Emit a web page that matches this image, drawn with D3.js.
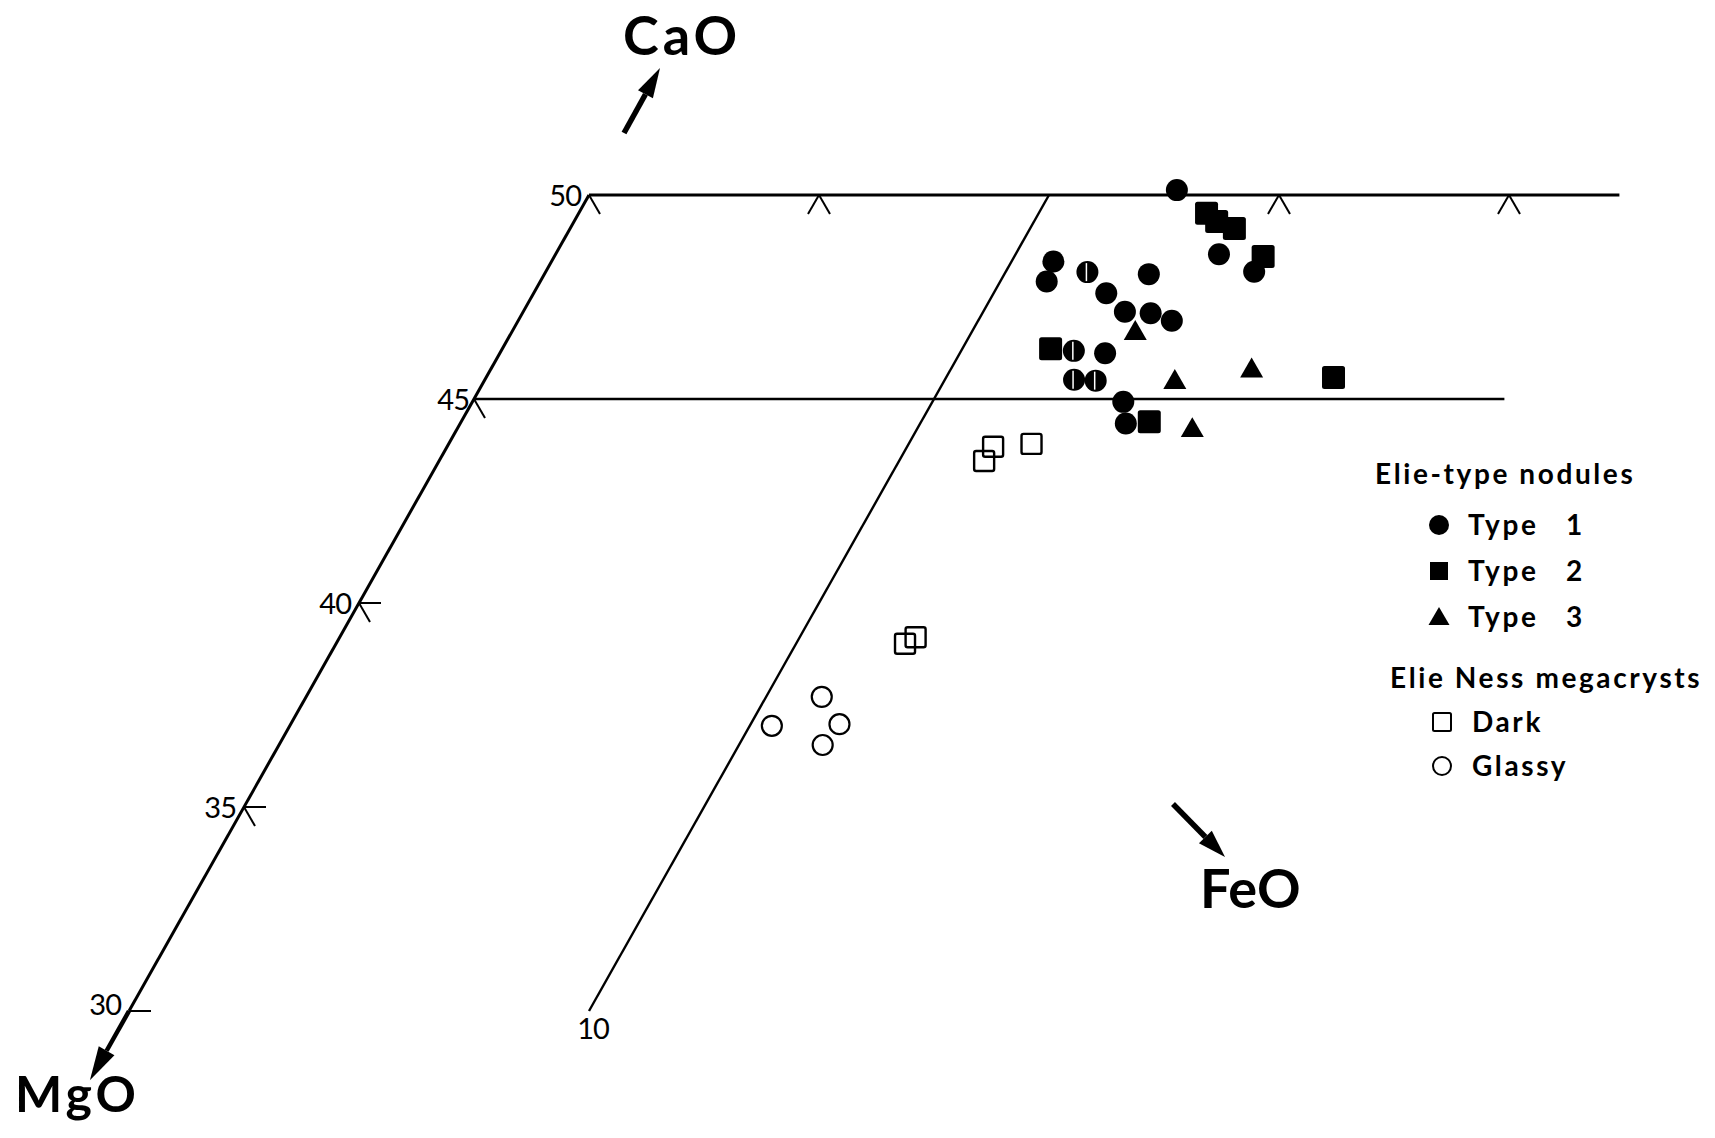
<!DOCTYPE html>
<html>
<head>
<meta charset="utf-8">
<script src="https://cdn.jsdelivr.net/npm/d3@7"></script>
<style>
  body { margin: 0; background: #fff; }
  svg { display: block; }
  text { font-family: Lato, "Open Sans", sans-serif; fill: #000; }
</style>
</head>
<body>
<svg id="chart" width="1715" height="1138"></svg>
<script>
// Pyroxene compositions, wt% CaO and FeO, plotted in the CaO–MgO–FeO triangle.
// split: symbol drawn with a white bar through it.
const type1 = [
  { cao: 50.12, feo: 12.72 },
  { cao: 48.37, feo: 10.91 },
  { cao: 47.88, feo: 11.01 },
  { cao: 48.11, feo: 11.78, split: true },
  { cao: 48.06, feo: 13.14 },
  { cao: 47.59, feo: 12.45 },
  { cao: 47.14, feo: 13.08 },
  { cao: 47.10, feo: 13.66 },
  { cao: 46.92, feo: 14.21 },
  { cao: 46.18, feo: 12.45, split: true },
  { cao: 46.12, feo: 13.16 },
  { cao: 45.47, feo: 12.81, split: true },
  { cao: 45.45, feo: 13.29, split: true },
  { cao: 44.93, feo: 14.15 },
  { cao: 44.40, feo: 14.47 },
  { cao: 48.55, feo: 14.42 },
  { cao: 48.12, feo: 15.40 }
];
const type2 = [
  { cao: 49.55, feo: 13.65 },
  { cao: 49.35, feo: 13.97 },
  { cao: 49.18, feo: 14.44 },
  { cao: 48.49, feo: 15.41 },
  { cao: 46.23, feo: 11.92 },
  { cao: 44.44, feo: 14.96 },
  { cao: 45.53, feo: 18.42 }
];
const type3 = [
  { cao: 46.61, feo: 13.57 },
  { cao: 45.41, feo: 15.03 },
  { cao: 45.69, feo: 16.56 },
  { cao: 44.23, feo: 16.00 }
];
const darkMegacrysts = [
  { cao: 43.83, feo: 11.87 },
  { cao: 43.48, feo: 11.85 },
  { cao: 43.90, feo: 12.67 },
  { cao: 39.16, feo: 12.52 },
  { cao: 39.00, feo: 12.37 }
];
const glassyMegacrysts = [
  { cao: 37.70, feo: 11.21 },
  { cao: 36.99, feo: 10.48 },
  { cao: 37.03, feo: 11.93 },
  { cao: 36.52, feo: 11.82 }
];

// Axis ticks
const caoTicks = [50, 45, 40, 35, 30];
const feoTicks = [5, 15, 20];
const caoGuides = [50, 45];     // constant-CaO lines
const feoGuides = [10];         // constant-FeO line
const feoExtent = 22.4;         // how far the CaO guides run towards FeO
const caoBottom = 30;

const legendNodules = [
  { label: "Type", num: "1", shape: "circle" },
  { label: "Type", num: "2", shape: "square" },
  { label: "Type", num: "3", shape: "triangle" }
];
const legendMegacrysts = [
  { label: "Dark", shape: "openSquare" },
  { label: "Glassy", shape: "openCircle" }
];

const svg = d3.select("#chart");

// Ternary projection: horizontal coordinate = FeO + CaO/2, vertical = CaO
const xScale = d3.scaleLinear().domain([25, 45]).range([589, 1509]);
const yScale = d3.scaleLinear().domain([50, 30]).range([195, 1011]);
const px = d => xScale(d.feo + d.cao / 2);
const py = d => yScale(d.cao);
const pt = (cao, feo) => [px({ cao, feo }), py({ cao, feo })];

const line = d3.line();
const g = svg.append("g");

// Constant-CaO guides
caoGuides.forEach(c => {
  g.append("path")
    .attr("d", line([pt(c, 0), pt(c, feoExtent)]))
    .attr("stroke", "#000").attr("stroke-width", c === 50 ? 3.2 : 2.4).attr("fill", "none");
});
// CaO axis (FeO = 0)
g.append("path")
  .attr("d", line([pt(50, 0), pt(caoBottom, 0)]))
  .attr("stroke", "#000").attr("stroke-width", 3).attr("fill", "none");
// Constant-FeO guide
feoGuides.forEach(f => {
  g.append("path")
    .attr("d", line([pt(50, f), pt(caoBottom, f)]))
    .attr("stroke", "#000").attr("stroke-width", 2.4).attr("fill", "none");
  const [x, y] = pt(caoBottom, f);
  g.append("text").attr("x", x + 4).attr("y", y + 28)
    .attr("text-anchor", "middle").attr("font-size", 29).attr("letter-spacing", -1).text(f);
});

// Tick strokes: along constant CaO (horizontal), constant MgO (down-right), constant FeO (down-left)
const tickLen = 22;
const dirs = {
  flat: [1, 0],
  downRight: [Math.cos(Math.PI / 3), Math.sin(Math.PI / 3)],
  downLeft: [-Math.cos(Math.PI / 3), Math.sin(Math.PI / 3)]
};
function tick(x, y, dir) {
  const [dx, dy] = dirs[dir];
  g.append("path")
    .attr("d", line([[x, y], [x + dx * tickLen, y + dy * tickLen]]))
    .attr("stroke", "#000").attr("stroke-width", 2).attr("fill", "none");
}
caoTicks.forEach(c => {
  const [x, y] = pt(c, 0);
  if (!caoGuides.includes(c)) tick(x, y, "flat");
  if (c !== caoBottom) tick(x, y, "downRight");
  g.append("text").attr("x", x - (c === 45 ? 5 : 8)).attr("y", c === caoBottom ? y - 8 : y - 1)
    .attr("text-anchor", "end").attr("dominant-baseline", "central")
    .attr("font-size", 29).attr("letter-spacing", -1).text(c);
});
feoTicks.forEach(f => {
  const [x, y] = pt(50, f);
  tick(x, y, "downLeft");
  tick(x, y, "downRight");
});

// Arrows for the three components
function arrow(x1, y1, x2, y2, headLen, headW, w) {
  const ang = Math.atan2(y2 - y1, x2 - x1);
  const bx = x2 - headLen * Math.cos(ang), by = y2 - headLen * Math.sin(ang);
  const nx = -Math.sin(ang) * headW / 2, ny = Math.cos(ang) * headW / 2;
  g.append("path").attr("d", line([[x1, y1], [bx, by]]))
    .attr("stroke", "#000").attr("stroke-width", w).attr("fill", "none");
  g.append("path")
    .attr("d", line([[x2, y2], [bx + nx, by + ny], [bx - nx, by - ny]]) + "Z")
    .attr("fill", "#000");
}
const [mx0, my0] = pt(caoBottom, 0);
const [mx1, my1] = pt(28.3, 0);
arrow(mx0, my0, mx1, my1, 34, 18, 4.5);
arrow(624, 133, 660, 68, 30, 17, 5.5);
arrow(1173, 804, 1225, 857, 28, 18, 5.5);

g.append("text").attr("x", 623).attr("y", 55).attr("font-size", 54).attr("font-weight", 700)
  .attr("letter-spacing", 4).text("CaO");
g.append("text").attr("x", 1200).attr("y", 908).attr("font-size", 54).attr("font-weight", 700).text("FeO");
g.append("text").attr("x", 15).attr("y", 1112).attr("font-size", 50).attr("font-weight", 700)
  .attr("letter-spacing", 4).text("MgO");

// Symbols
const sym = {
  triangle: w => d3.symbol(d3.symbolTriangle, Math.sqrt(3) / 4 * w * w)()
};

const marks = svg.append("g");
marks.selectAll(".t1").data(type1).join("circle")
  .attr("cx", px).attr("cy", py).attr("r", 11).attr("fill", "#000");
marks.selectAll(".t1s").data(type1.filter(d => d.split)).join("line")
  .attr("x1", d => px(d) - 1).attr("x2", d => px(d) - 1)
  .attr("y1", d => py(d) - 9).attr("y2", d => py(d) + 9)
  .attr("stroke", "#fff").attr("stroke-width", 1.5);
marks.selectAll(".t2").data(type2).join("rect")
  .attr("x", d => px(d) - 11.5).attr("y", d => py(d) - 11.5)
  .attr("width", 23).attr("height", 23).attr("rx", 2.5).attr("fill", "#000");
marks.selectAll(".t3").data(type3).join("path")
  .attr("transform", d => `translate(${px(d)},${py(d)})`)
  .attr("d", sym.triangle(23)).attr("fill", "#000");
marks.selectAll(".dk").data(darkMegacrysts).join("rect")
  .attr("x", d => px(d) - 10).attr("y", d => py(d) - 10)
  .attr("width", 20).attr("height", 20).attr("rx", 2)
  .attr("fill", "none").attr("stroke", "#000").attr("stroke-width", 2.4);
marks.selectAll(".gl").data(glassyMegacrysts).join("circle")
  .attr("cx", px).attr("cy", py).attr("r", 10)
  .attr("fill", "none").attr("stroke", "#000").attr("stroke-width", 2.2);

// Legend
const lg = svg.append("g");
const legendFont = t => t.attr("font-size", 28).attr("font-weight", 700).attr("letter-spacing", 2.6);
lg.append("text").attr("x", 1375).attr("y", 484).call(legendFont).text("Elie-type nodules");
legendNodules.forEach((d, i) => {
  const y = 525 + i * 46;
  const x = 1439;
  if (d.shape === "circle") lg.append("circle").attr("cx", x).attr("cy", y).attr("r", 10);
  if (d.shape === "square") lg.append("rect").attr("x", x - 9).attr("y", y - 9).attr("width", 18).attr("height", 18);
  if (d.shape === "triangle") lg.append("path").attr("transform", `translate(${x},${y + 2})`).attr("d", sym.triangle(21));
  lg.append("text").attr("x", 1468).attr("y", y + 10).call(legendFont).text(d.label);
  lg.append("text").attr("x", 1566).attr("y", y + 10).call(legendFont).text(d.num);
});
lg.append("text").attr("x", 1390).attr("y", 688).call(legendFont).text("Elie Ness megacrysts");
legendMegacrysts.forEach((d, i) => {
  const y = 722 + i * 44;
  const x = 1442;
  if (d.shape === "openSquare") lg.append("rect").attr("x", x - 9).attr("y", y - 9).attr("width", 18).attr("height", 18)
    .attr("rx", 1.5).attr("fill", "none").attr("stroke", "#000").attr("stroke-width", 2);
  if (d.shape === "openCircle") lg.append("circle").attr("cx", x).attr("cy", y).attr("r", 9)
    .attr("fill", "none").attr("stroke", "#000").attr("stroke-width", 2);
  lg.append("text").attr("x", 1472).attr("y", y + 10).call(legendFont).text(d.label);
});
</script>
</body>
</html>
